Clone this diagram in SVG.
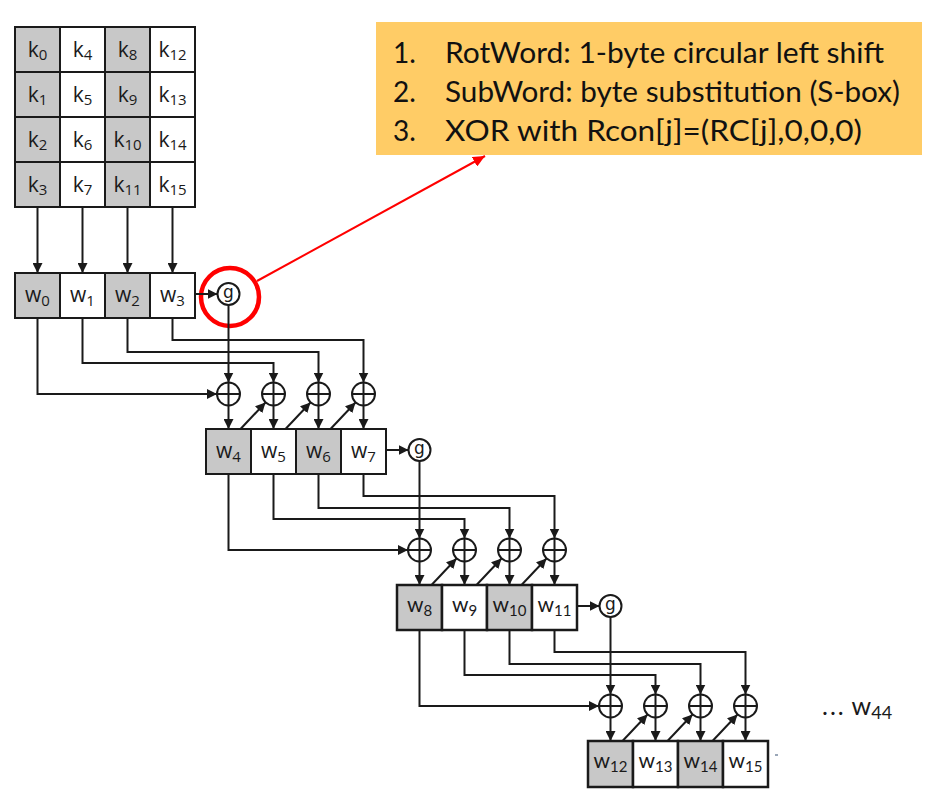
<svg xmlns="http://www.w3.org/2000/svg" width="939" height="797" viewBox="0 0 939 797">
<defs>
<marker id="ah" markerUnits="userSpaceOnUse" markerWidth="11" markerHeight="10" refX="10" refY="5" orient="auto"><path d="M0,0 L10,5 L0,10 z" fill="#1a1a1a"/></marker>
<marker id="rah" markerUnits="userSpaceOnUse" markerWidth="13" markerHeight="11" refX="12" refY="5.5" orient="auto"><path d="M0,0 L12,5.5 L0,11 z" fill="#ff0000"/></marker>
<style>
.c{stroke:#1a1a1a;stroke-width:2;}
.g{fill:#c8c8c8;}
.w{fill:#ffffff;}
.t{font-family:"Open Sans","Noto Sans",sans-serif;font-size:21px;fill:#1a1a1a;text-anchor:middle;}
.t2{font-family:Lato,"Open Sans",sans-serif;font-size:21px;fill:#1a1a1a;text-anchor:middle;}
.s{font-size:15px;}
.ln{fill:none;stroke:#1a1a1a;stroke-width:2;}
.ar{fill:none;stroke:#1a1a1a;stroke-width:2;marker-end:url(#ah);}
.xo{fill:#ffffff;stroke:#1a1a1a;stroke-width:2;}
.gt{font-family:"DejaVu Sans",Lato,sans-serif;font-size:17px;fill:#1a1a1a;text-anchor:middle;}
.bx{font-family:Lato,"Open Sans",sans-serif;font-size:28px;fill:#111;}
</style>
</defs>

<g id="key-grid">
<rect class="c g" x="15" y="27" width="45" height="45"/><rect class="c w" x="60" y="27" width="45" height="45"/><rect class="c g" x="105" y="27" width="45" height="45"/><rect class="c w" x="150" y="27" width="45" height="45"/>
<rect class="c g" x="15" y="72" width="45" height="45"/><rect class="c w" x="60" y="72" width="45" height="45"/><rect class="c g" x="105" y="72" width="45" height="45"/><rect class="c w" x="150" y="72" width="45" height="45"/>
<rect class="c g" x="15" y="117" width="45" height="45"/><rect class="c w" x="60" y="117" width="45" height="45"/><rect class="c g" x="105" y="117" width="45" height="45"/><rect class="c w" x="150" y="117" width="45" height="45"/>
<rect class="c g" x="15" y="162" width="45" height="45"/><rect class="c w" x="60" y="162" width="45" height="45"/><rect class="c g" x="105" y="162" width="45" height="45"/><rect class="c w" x="150" y="162" width="45" height="45"/>
<text class="t" x="37.5" y="57">k<tspan class="s" dy="3">0</tspan></text>
<text class="t" x="82.5" y="57">k<tspan class="s" dy="3">4</tspan></text>
<text class="t" x="127.5" y="57">k<tspan class="s" dy="3">8</tspan></text>
<text class="t" x="172.5" y="57">k<tspan class="s" dy="3">12</tspan></text>
<text class="t" x="37.5" y="102">k<tspan class="s" dy="3">1</tspan></text>
<text class="t" x="82.5" y="102">k<tspan class="s" dy="3">5</tspan></text>
<text class="t" x="127.5" y="102">k<tspan class="s" dy="3">9</tspan></text>
<text class="t" x="172.5" y="102">k<tspan class="s" dy="3">13</tspan></text>
<text class="t" x="37.5" y="147">k<tspan class="s" dy="3">2</tspan></text>
<text class="t" x="82.5" y="147">k<tspan class="s" dy="3">6</tspan></text>
<text class="t" x="127.5" y="147">k<tspan class="s" dy="3">10</tspan></text>
<text class="t" x="172.5" y="147">k<tspan class="s" dy="3">14</tspan></text>
<text class="t" x="37.5" y="192">k<tspan class="s" dy="3">3</tspan></text>
<text class="t" x="82.5" y="192">k<tspan class="s" dy="3">7</tspan></text>
<text class="t" x="127.5" y="192">k<tspan class="s" dy="3">11</tspan></text>
<text class="t" x="172.5" y="192">k<tspan class="s" dy="3">15</tspan></text>
</g>

<g id="row-w0-w3">
<rect class="c g" x="15" y="273" width="45" height="45"/><rect class="c w" x="60" y="273" width="45" height="45"/><rect class="c g" x="105" y="273" width="45" height="45"/><rect class="c w" x="150" y="273" width="45" height="45"/>
<text class="t" x="37.5" y="302">w<tspan class="s" dy="4">0</tspan></text>
<text class="t" x="82.5" y="302">w<tspan class="s" dy="4">1</tspan></text>
<text class="t" x="127.5" y="302">w<tspan class="s" dy="4">2</tspan></text>
<text class="t" x="172.5" y="302">w<tspan class="s" dy="4">3</tspan></text>
</g>

<g id="row-w4-w7">
<rect class="c g" x="206" y="429" width="45" height="45"/><rect class="c w" x="251" y="429" width="45" height="45"/><rect class="c g" x="296" y="429" width="45" height="45"/><rect class="c w" x="341" y="429" width="45" height="45"/>
<text class="t" x="228.5" y="458">w<tspan class="s" dy="4">4</tspan></text>
<text class="t" x="273.5" y="458">w<tspan class="s" dy="4">5</tspan></text>
<text class="t" x="318.5" y="458">w<tspan class="s" dy="4">6</tspan></text>
<text class="t" x="363.5" y="458">w<tspan class="s" dy="4">7</tspan></text>
</g>

<g id="row-w8-w11">
<rect class="c g" x="397" y="585" width="45" height="45" style="stroke-width:2.5"/><rect class="c w" x="442" y="585" width="45" height="45" style="stroke-width:2.5"/><rect class="c g" x="487" y="585" width="45" height="45" style="stroke-width:2.5"/><rect class="c w" x="532" y="585" width="45" height="45" style="stroke-width:2.5"/>
<text class="t2" x="419.5" y="612">w<tspan class="s" dy="4">8</tspan></text>
<text class="t2" x="464.5" y="612">w<tspan class="s" dy="4">9</tspan></text>
<text class="t2" x="509.5" y="612">w<tspan class="s" dy="4">10</tspan></text>
<text class="t2" x="554.5" y="612">w<tspan class="s" dy="4">11</tspan></text>
</g>

<g id="row-w12-w15">
<rect class="c g" x="588" y="741" width="45" height="46" style="stroke-width:2.5"/><rect class="c w" x="633" y="741" width="45" height="46" style="stroke-width:2.5"/><rect class="c g" x="678" y="741" width="45" height="46" style="stroke-width:2.5"/><rect class="c w" x="723" y="741" width="45" height="46" style="stroke-width:2.5"/>
<text class="t2" x="610.5" y="768">w<tspan class="s" dy="4">12</tspan></text>
<text class="t2" x="655.5" y="768">w<tspan class="s" dy="4">13</tspan></text>
<text class="t2" x="700.5" y="768">w<tspan class="s" dy="4">14</tspan></text>
<text class="t2" x="745.5" y="768">w<tspan class="s" dy="4">15</tspan></text>
</g>

<g id="g-functions">
<circle class="xo" cx="228.5" cy="294" r="11"/><text class="gt" x="228.5" y="297.5">g</text>
<circle class="xo" cx="419.5" cy="450" r="11"/><text class="gt" x="419.5" y="453.5">g</text>
<circle class="xo" cx="610.5" cy="606" r="11"/><text class="gt" x="610.5" y="609.5">g</text>
</g>

<g id="xor-nodes">
<g id="xor-row-1">
<circle class="xo" cx="228.5" cy="394" r="11.5"/><path class="ln" d="M217 394H240M228.5 382.5V405.5"/>
<circle class="xo" cx="273.5" cy="394" r="11.5"/><path class="ln" d="M262 394H285M273.5 382.5V405.5"/>
<circle class="xo" cx="318.5" cy="394" r="11.5"/><path class="ln" d="M307 394H330M318.5 382.5V405.5"/>
<circle class="xo" cx="363.5" cy="394" r="11.5"/><path class="ln" d="M352 394H375M363.5 382.5V405.5"/>
</g>
<g id="xor-row-2">
<circle class="xo" cx="419.5" cy="550" r="11.5"/><path class="ln" d="M408 550H431M419.5 538.5V561.5"/>
<circle class="xo" cx="464.5" cy="550" r="11.5"/><path class="ln" d="M453 550H476M464.5 538.5V561.5"/>
<circle class="xo" cx="509.5" cy="550" r="11.5"/><path class="ln" d="M498 550H521M509.5 538.5V561.5"/>
<circle class="xo" cx="554.5" cy="550" r="11.5"/><path class="ln" d="M543 550H566M554.5 538.5V561.5"/>
</g>
<g id="xor-row-3">
<circle class="xo" cx="610.5" cy="706" r="11.5"/><path class="ln" d="M599 706H622M610.5 694.5V717.5"/>
<circle class="xo" cx="655.5" cy="706" r="11.5"/><path class="ln" d="M644 706H667M655.5 694.5V717.5"/>
<circle class="xo" cx="700.5" cy="706" r="11.5"/><path class="ln" d="M689 706H712M700.5 694.5V717.5"/>
<circle class="xo" cx="745.5" cy="706" r="11.5"/><path class="ln" d="M734 706H757M745.5 694.5V717.5"/>
</g>
</g>

<g id="info-box">
<rect x="376" y="22" width="546" height="133" fill="#ffcc66"/>
<text class="bx" x="393" y="63">1.</text>
<text class="bx" x="445" y="63" textLength="439" lengthAdjust="spacingAndGlyphs">RotWord: 1-byte circular left shift</text>
<text class="bx" x="393" y="102">2.</text>
<text class="bx" x="445" y="102" textLength="455" lengthAdjust="spacingAndGlyphs">SubWord: byte substitution (S-box)</text>
<text class="bx" x="393" y="141">3.</text>
<text class="bx" x="445" y="141" textLength="417" lengthAdjust="spacingAndGlyphs">XOR with Rcon[j]=(RC[j],0,0,0)</text>
</g>

<g id="ellipsis-label">
<text x="822" y="715" style="font-family:Lato,'Open Sans',sans-serif;font-size:25px;fill:#1a1a1a;"><tspan letter-spacing="2">...</tspan> w<tspan style="font-size:18px" dy="4">44</tspan></text>
</g>

<g id="highlight">
<circle cx="230" cy="297" r="29" fill="none" stroke="#ff0000" stroke-width="4.5"/>
</g>

<g id="connectors">
<path class="ar" d="M37.5 207V273"/>
<path class="ar" d="M82.5 207V273"/>
<path class="ar" d="M127.5 207V273"/>
<path class="ar" d="M172.5 207V273"/>
<path class="ar" d="M195 294H217.5"/>
<path class="ar" d="M228.5 305V382.5"/>
<path class="ar" d="M37.5 318V394H217"/>
<path class="ar" d="M82.5 318V363H273.5V382.5"/>
<path class="ar" d="M127.5 318V352H318.5V382.5"/>
<path class="ar" d="M172.5 318V340H363.5V382.5"/>
<path class="ar" d="M228.5 405.5V429"/>
<path class="ar" d="M273.5 405.5V429"/>
<path class="ar" d="M318.5 405.5V429"/>
<path class="ar" d="M363.5 405.5V429"/>
<path class="ar" d="M240.5 429L265.5 402.5"/>
<path class="ar" d="M285.5 429L310.5 402.5"/>
<path class="ar" d="M330.5 429L355.5 402.5"/>

<path class="ar" d="M386 450H408.5"/>
<path class="ar" d="M419.5 461V538.5"/>
<path class="ar" d="M228.5 474V550H408"/>
<path class="ar" d="M273.5 474V519H464.5V538.5"/>
<path class="ar" d="M318.5 474V508H509.5V538.5"/>
<path class="ar" d="M363.5 474V496H554.5V538.5"/>
<path class="ar" d="M419.5 561.5V585"/>
<path class="ar" d="M464.5 561.5V585"/>
<path class="ar" d="M509.5 561.5V585"/>
<path class="ar" d="M554.5 561.5V585"/>
<path class="ar" d="M431.5 585L456.5 558.5"/>
<path class="ar" d="M476.5 585L501.5 558.5"/>
<path class="ar" d="M521.5 585L546.5 558.5"/>

<path class="ar" d="M577 606H599.5"/>
<path class="ar" d="M610.5 617V694.5"/>
<path class="ar" d="M419.5 630V706H599"/>
<path class="ar" d="M464.5 630V675H655.5V694.5"/>
<path class="ar" d="M509.5 630V664H700.5V694.5"/>
<path class="ar" d="M554.5 630V652H745.5V694.5"/>
<path class="ar" d="M610.5 717.5V741"/>
<path class="ar" d="M655.5 717.5V741"/>
<path class="ar" d="M700.5 717.5V741"/>
<path class="ar" d="M745.5 717.5V741"/>
<path class="ar" d="M622.5 741L647.5 714.5"/>
<path class="ar" d="M667.5 741L692.5 714.5"/>
<path class="ar" d="M712.5 741L737.5 714.5"/>

<path d="M257 281L485 156" fill="none" stroke="#ff0000" stroke-width="2" marker-end="url(#rah)"/>
</g>
<rect x="775" y="754" width="3" height="2" fill="#9aa7b8"/>
</svg>
